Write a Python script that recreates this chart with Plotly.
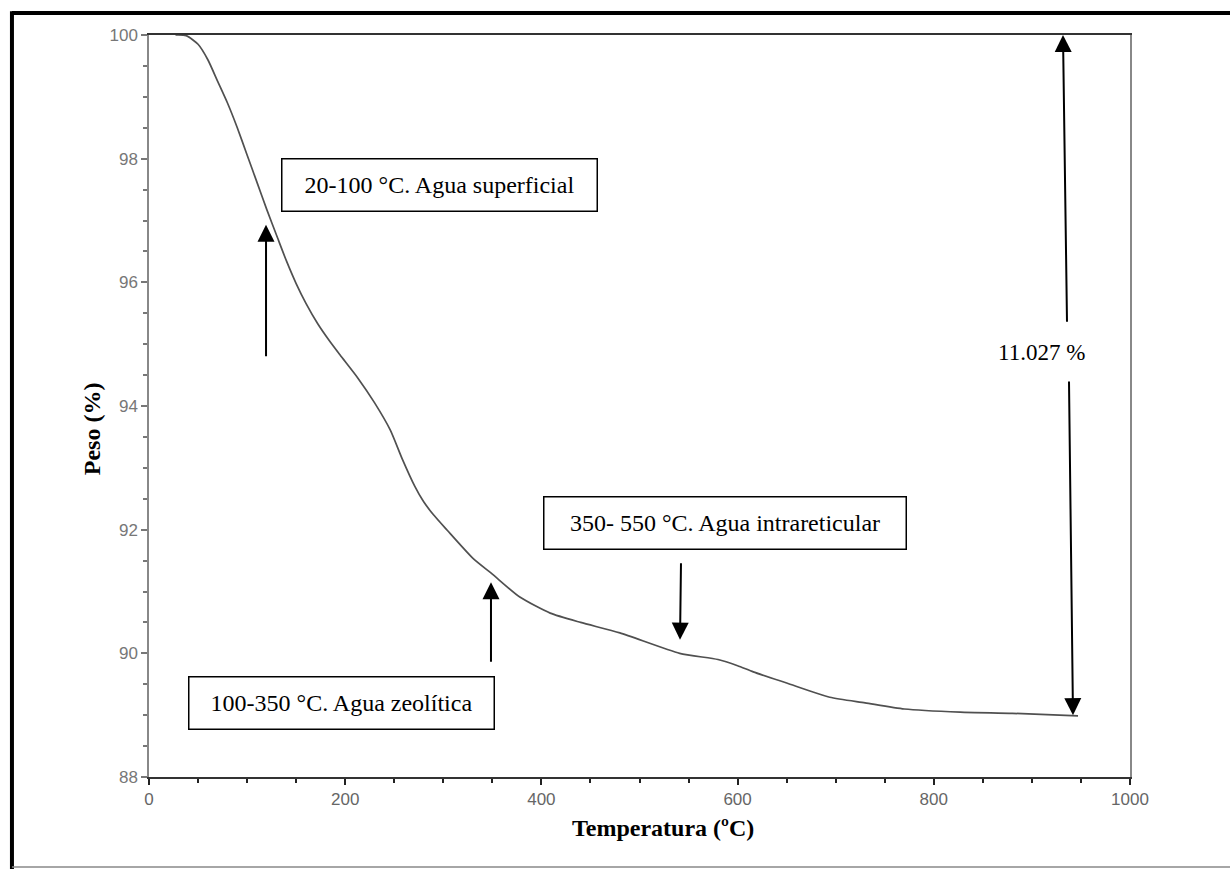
import plotly.graph_objects as go

# ---- data ----
temperatura = [27, 38, 50, 60, 70, 80, 90, 100, 110, 120, 131, 140, 150, 160, 172, 185,
               195, 213, 230, 246, 258, 271, 280, 290, 304, 330, 350, 378, 409, 440,
               480, 541, 580, 600, 616, 650, 694, 730, 770, 827, 880, 947]
peso = [100.0, 99.99, 99.85, 99.6, 99.25, 98.9, 98.5, 98.06, 97.62, 97.18, 96.72,
        96.35, 95.98, 95.66, 95.33, 95.03, 94.82, 94.45, 94.05, 93.61, 93.15, 92.7,
        92.45, 92.24, 91.99, 91.54, 91.28, 90.91, 90.65, 90.5, 90.33, 90.0, 89.9,
        89.8, 89.7, 89.52, 89.29, 89.2, 89.1, 89.05, 89.03, 88.99]

x_ticks = [0, 200, 400, 600, 800, 1000]
y_ticks = [88, 90, 92, 94, 96, 98, 100]

box_labels = ["20-100 °C. Agua superficial", "100-350 °C. Agua zeolítica",
              "350- 550 °C. Agua intrareticular"]
box_x = [296.6, 196.2, 587.2]
box_y = [97.57, 89.20, 92.11]
box_w = [317, 307, 364]

# arrows: (head_x, head_y, tail_x, tail_y)
arrows = [
    (119.3, 96.93, 119.3, 94.78),
    (348.6, 91.15, 348.6, 89.84),
    (541.3, 90.22, 542.3, 91.48),
    (931.7, 100.0, 935.8, 95.34),
    (941.9, 89.0, 937.8, 94.42),
]
loss_text = "11.027 %"
loss_pos = (909.3, 94.87)

fig = go.Figure()
fig.add_trace(go.Scatter(x=temperatura, y=peso, mode="lines",
                         line=dict(color="#505050", width=1.7, shape="spline",
                                   smoothing=0.6),
                         showlegend=False, hoverinfo="skip"))

serif = "Liberation Serif, Times New Roman, serif"
annotations = []
for t, x, y, w in zip(box_labels, box_x, box_y, box_w):
    annotations.append(dict(x=x, y=y, xref="x", yref="y", text=t, showarrow=False,
                            font=dict(family=serif, size=24, color="black"),
                            bordercolor="black", borderwidth=1.5, borderpad=0,
                            bgcolor="white", width=w - 3, height=51, align="center"))
for hx, hy, tx, ty in arrows:
    annotations.append(dict(x=hx, y=hy, ax=tx, ay=ty, xref="x", yref="y",
                            axref="x", ayref="y", text="", showarrow=True,
                            arrowhead=2, arrowsize=1.7, arrowwidth=2, arrowcolor="black"))
annotations.append(dict(x=loss_pos[0], y=loss_pos[1], xref="x", yref="y", text=loss_text,
                        showarrow=False, font=dict(family=serif, size=23, color="black")))
annotations.append(dict(x=0.524, y=-0.089, xref="paper", yref="paper",
                        text="<b>Temperatura (ºC)</b>", showarrow=False,
                        font=dict(family=serif, size=24, color="black")))
annotations.append(dict(x=-0.0734, y=0.470, xref="paper", yref="paper",
                        text="<b>Peso (%)</b>", showarrow=False, textangle=-90,
                        font=dict(family=serif, size=24, color="black")))

shapes = [
    dict(type="line", xref="paper", yref="paper", x0=-0.1397, x1=1.11, y0=1.0296, y1=1.0296,
         line=dict(color="black", width=4)),
    dict(type="line", xref="paper", yref="paper", x0=-0.1397, x1=-0.1397, y0=1.032, y1=-0.13,
         line=dict(color="black", width=4)),
    dict(type="line", xref="paper", yref="paper", x0=-0.1397, x1=1.11, y0=-0.1213, y1=-0.1213,
         line=dict(color="#888888", width=1.5)),
]

fig.update_layout(
    width=1230, height=869,
    margin=dict(l=149, r=100, t=35, b=92),
    paper_bgcolor="white", plot_bgcolor="white",
    annotations=annotations, shapes=shapes,
    xaxis=dict(range=[0, 1000], tickvals=x_ticks, ticks="outside", ticklen=6,
               tickwidth=1.5, tickcolor="#222222",
               showline=True, linecolor="#333333", linewidth=1.5, mirror=True,
               showgrid=False, zeroline=False,
               tickfont=dict(family="Liberation Sans, Arial", size=17, color="#666666"),
               minor=dict(dtick=50, ticks="outside", ticklen=4, tickcolor="#222222",
                          showgrid=False)),
    yaxis=dict(range=[88, 100], tickvals=y_ticks, ticks="outside", ticklen=6,
               tickwidth=1.5, tickcolor="#777777",
               showline=True, linecolor="#888888", linewidth=1.5, mirror=True,
               showgrid=False, zeroline=False,
               tickfont=dict(family="Liberation Sans, Arial", size=17, color="#777777"),
               minor=dict(dtick=0.5, ticks="outside", ticklen=4, tickcolor="#777777",
                          showgrid=False)),
)

fig.write_html("out.html")
